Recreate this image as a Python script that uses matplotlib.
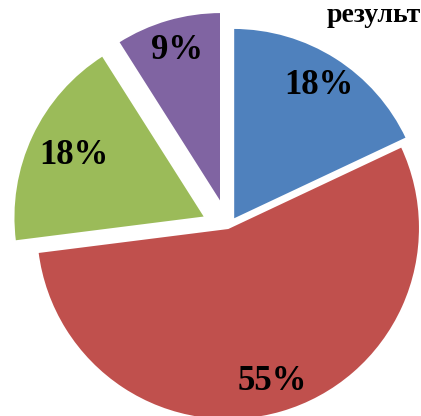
import matplotlib.pyplot as plt

# slice shares, clockwise from 12 o'clock
shares = [18, 55, 18, 9]
colors = ['#4F81BD', '#C0504D', '#9BBB59', '#8064A2']
explode = [0.05, 0.0, 0.13, 0.13]  # fraction of the radius
label_dist = [0.83, 0.83, 0.76, 0.83]
title_text = 'результ'

W, H = 421, 416
R = 192
fig = plt.figure(figsize=(W / 100, H / 100), dpi=100)
ax = fig.add_axes([0, 0, 1, 1])

font = dict(family='Liberation Serif', weight='bold', color='black')

# pie() takes explode in data units, so scale by the radius
wedges, texts, autotexts = ax.pie(
    shares, colors=colors, explode=[e * R for e in explode], startangle=90,
    counterclock=False, radius=R, center=(228, H - 228), autopct='%1.0f%%',
    pctdistance=0.83, wedgeprops=dict(edgecolor='white', linewidth=1.5),
    frame=True, textprops=dict(fontsize=25, **font))

# pull some labels in toward their wedge's apex
for w, t, d in zip(wedges, autotexts, label_dist):
    cx, cy = w.center
    x, y = t.get_position()
    k = d / 0.83
    t.set_position((cx + (x - cx) * k, cy + (y - cy) * k))

ax.set_xlim(0, W)
ax.set_ylim(0, H)
ax.set_aspect('equal')
ax.axis('off')

fig.text(327 / W, 1 - 22 / H, title_text, fontsize=20, ha='left', va='baseline', **font)

plt.savefig('out.png', dpi=100)
